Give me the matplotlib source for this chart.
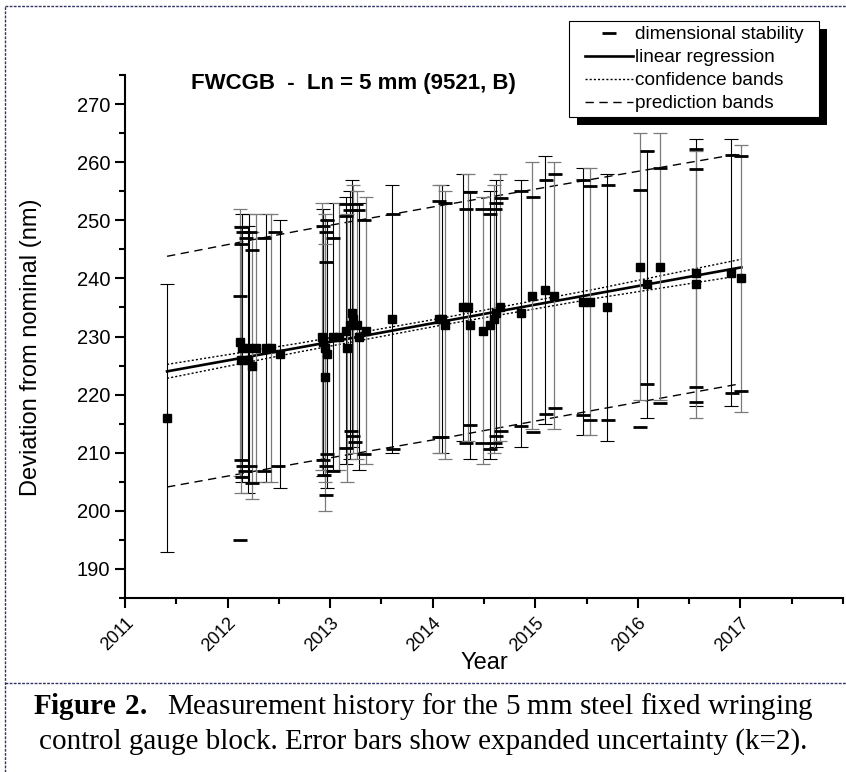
import matplotlib
matplotlib.use("Agg")
from matplotlib import pyplot as plt
from matplotlib.lines import Line2D
from matplotlib.patches import Rectangle
from matplotlib.ticker import MultipleLocator, FixedLocator

plt.rcParams['font.family'] = ['Liberation Sans', 'DejaVu Sans']
plt.rcParams['mathtext.fontset'] = 'custom'
plt.rcParams['mathtext.rm'] = 'Liberation Serif'
plt.rcParams['mathtext.bf'] = 'Liberation Serif:bold'

# measurements (year, deviation in nm), error bars = expanded uncertainty
meas_year = [2011.41,
             2012.12, 2012.14, 2012.13, 2012.21, 2012.235, 2012.20, 2012.28, 2012.37, 2012.42, 2012.51,
             2012.92, 2012.93, 2012.95, 2012.97, 2012.95, 2013.03, 2013.09, 2013.15, 2013.16, 2013.21,
             2013.22, 2013.19, 2013.26, 2013.28, 2013.35, 2013.605,
             2014.065, 2014.09, 2014.12, 2014.30, 2014.345, 2014.36, 2014.49, 2014.56, 2014.60, 2014.62,
             2014.66, 2014.86, 2014.97, 2015.09, 2015.18,
             2015.47, 2015.53, 2015.70, 2016.02, 2016.09, 2016.22, 2016.57, 2016.57, 2016.91, 2017.01]
meas_val = [216,
            229, 228, 226, 228, 225, 226, 228, 228, 228, 227,
            230, 229, 228, 227, 223, 230, 230, 231, 228, 234,
            233, 232, 232, 230, 231, 233,
            233, 233, 232, 235, 235, 232, 231, 232, 233, 234,
            235, 234, 237, 238, 237,
            236, 236, 235, 242, 239, 242, 241, 239, 241, 240]
expanded_unc = 23

# dimensional stability marks
dash_year = [2012.12, 2012.13, 2012.13, 2012.15, 2012.15, 2012.18, 2012.17, 2012.13, 2012.14,
             2012.24, 2012.24, 2012.36, 2012.36, 2012.46, 2012.49, 2012.22, 2012.22, 2012.12,
             2012.93, 2012.96, 2012.97, 2013.03, 2012.96, 2013.15, 2013.15, 2013.25, 2013.19,
             2013.27, 2013.33, 2013.61,
             2012.93, 2012.96, 2012.97, 2013.03, 2012.96, 2013.15, 2013.20, 2013.22, 2013.24,
             2013.33, 2013.61, 2012.94,
             2014.065, 2014.12, 2014.36, 2014.32, 2014.48, 2014.56, 2014.61, 2014.62, 2014.67,
             2014.86, 2014.98, 2015.10, 2015.19,
             2014.065, 2014.09, 2014.36, 2014.32, 2014.48, 2014.56, 2014.61, 2014.62, 2014.67,
             2014.86, 2014.98, 2015.10, 2015.19,
             2015.47, 2015.535, 2015.71, 2016.02, 2016.09, 2016.22, 2016.57, 2016.57, 2016.92, 2017.01,
             2015.47, 2015.535, 2015.71, 2016.02, 2016.09, 2016.22, 2016.57, 2016.57, 2016.92, 2017.01]
dash_val = [237.0, 248.8, 208.8, 247.9, 207.8, 246.9, 206.8, 246.0, 205.9,
            244.9, 204.8, 246.9, 206.8, 247.9, 207.8, 247.9, 207.8, 195.0,
            249.0, 247.9, 250.0, 247.0, 242.8, 250.7, 252.8, 252.8, 251.8,
            251.8, 250.0, 251.1,
            208.8, 207.8, 209.8, 206.8, 202.8, 210.8, 213.8, 212.8, 211.8,
            209.8, 210.6, 206.2,
            253.4, 252.9, 254.8, 252.0, 252.0, 251.0, 252.0, 252.9, 253.8,
            255.0, 254.0, 257.0, 258.0,
            212.7, 212.7, 214.8, 211.6, 211.6, 210.7, 211.7, 212.8, 213.7,
            214.6, 213.6, 216.7, 217.7,
            257.0, 255.9, 256.1, 255.2, 261.9, 259.0, 262.3, 258.9, 261.3, 261.0,
            216.5, 215.7, 215.6, 214.4, 221.8, 218.6, 221.3, 218.8, 220.3, 220.7]

# regression with bands
fit_year = [2011.41, 2012.7, 2014.1, 2015.6, 2017.01]
fit_val = [224.0, 228.1, 232.6, 237.4, 241.9]
conf_up = [225.2, 228.85, 233.2, 238.2, 243.3]
conf_lo = [222.8, 227.35, 232.0, 236.6, 240.5]
pred_up = [243.8, 248.2, 252.6, 257.2, 261.5]
pred_lo = [204.1, 208.2, 212.5, 217.4, 221.9]

W, H = 846, 772
fig = plt.figure(figsize=(W / 100, H / 100), dpi=100)
ax = fig.add_axes([125 / W, 1 - 598 / H, 718 / W, 523 / H])

ax.plot(fit_year, pred_up, color='k', lw=1.0, ls=(0, (6, 4)))
ax.plot(fit_year, pred_lo, color='k', lw=1.0, ls=(0, (6, 4)))
ax.plot(fit_year, conf_up, color='k', lw=1.0, ls=(0, (1.5, 1.5)))
ax.plot(fit_year, conf_lo, color='k', lw=1.0, ls=(0, (1.5, 1.5)))
ax.plot(fit_year, fit_val, color='k', lw=1.9)

ax.errorbar(meas_year[0::2], meas_val[0::2], yerr=expanded_unc, fmt='none',
            ecolor='black', elinewidth=0.8, capsize=5, capthick=0.8)
ax.errorbar(meas_year[1::2], meas_val[1::2], yerr=expanded_unc, fmt='none',
            ecolor='#7a7a7a', elinewidth=0.9, capsize=5, capthick=0.9)
ax.plot(dash_year, dash_val, '_', color='k', ms=10.5, mew=2.0)
ax.plot(meas_year, meas_val, 's', color='k', ms=5.2)

ax.set_xlim(2011, 2018)
ax.set_ylim(185, 275)
for s in ['top', 'right']:
    ax.spines[s].set_visible(False)
for s in ['left', 'bottom']:
    ax.spines[s].set_linewidth(1.5)

years = [2011, 2012, 2013, 2014, 2015, 2016, 2017]
ax.xaxis.set_major_locator(FixedLocator(years))
ax.set_xticks(years)
ax.set_xticklabels([str(y) for y in years], rotation=45, ha='right', va='top',
                   rotation_mode='anchor', fontsize=13)
ax.xaxis.set_minor_locator(MultipleLocator(0.5))
ax.yaxis.set_major_locator(MultipleLocator(10))
ax.yaxis.set_minor_locator(MultipleLocator(5))
ax.set_yticks(range(190, 271, 10))
ax.tick_params(axis='both', which='major', direction='out', width=1.5, length=7)
ax.tick_params(axis='y', which='major', labelsize=14.5)
ax.tick_params(axis='both', which='minor', direction='out', width=1.5, length=4)
ax.tick_params(axis='x', which='major', pad=5)

ax.set_xlabel('Year', fontsize=17)
ax.xaxis.set_label_coords(0.5, -0.104)
ax.set_ylabel('Deviation from nominal (nm)', fontsize=17)
ax.yaxis.set_label_coords(-0.115, 0.48)

fig.text(353 / W, 1 - 83 / H, 'FWCGB  -  Ln = 5 mm (9521, B)', fontsize=16,
         fontweight='bold', ha='center', va='center')

# legend box with solid shadow
fig.add_artist(Rectangle((577 / W, 1 - 125 / H), 250 / W, 96 / H, transform=fig.transFigure,
                         facecolor='k', edgecolor='none', zorder=4))
fig.add_artist(Rectangle((569 / W, 1 - 117 / H), 250 / W, 96 / H, transform=fig.transFigure,
                         facecolor='white', edgecolor='k', lw=0.8, zorder=5))
handles = [
    Line2D([], [], ls='none', marker='_', color='k', ms=10, mew=2),
    Line2D([], [], color='k', lw=1.9),
    Line2D([], [], color='k', lw=1.0, ls=(0, (1.5, 1.5))),
    Line2D([], [], color='k', lw=1.0, ls=(0, (6, 4))),
]
labels = ['dimensional stability', 'linear regression', 'confidence bands', 'prediction bands']
leg = fig.legend(handles, labels, loc='upper left', bbox_to_anchor=(585 / W, 1 - 26 / H),
                 fontsize=13.7, frameon=False, handlelength=2.5, handletextpad=0.12,
                 labelspacing=0.3, borderpad=0, borderaxespad=0)
leg.set_zorder(6)

# dotted frame and caption
fig.add_artist(Line2D([5 / W, 5 / W], [0, 1 - 6 / H], transform=fig.transFigure,
                      color='#333366', lw=1.0, ls=(0, (2, 1))))
fig.add_artist(Line2D([5 / W, 1], [1 - 6 / H, 1 - 6 / H], transform=fig.transFigure,
                      color='#333366', lw=1.0, ls=(0, (2, 1))))
fig.add_artist(Line2D([5 / W, 1], [1 - 683 / H, 1 - 683 / H], transform=fig.transFigure,
                      color='#333366', lw=1.0, ls=(0, (2, 1))))
fig.text(0.5, 1 - 706 / H,
         r'$\mathbf{Figure\ 2.}$  Measurement history for the 5 mm steel fixed wringing',
         fontsize=21, family='Liberation Serif', ha='center', va='center')
fig.text(0.5, 1 - 742 / H,
         'control gauge block. Error bars show expanded uncertainty (k=2).',
         fontsize=21, family='Liberation Serif', ha='center', va='center')

fig.savefig('out.png', dpi=100)
